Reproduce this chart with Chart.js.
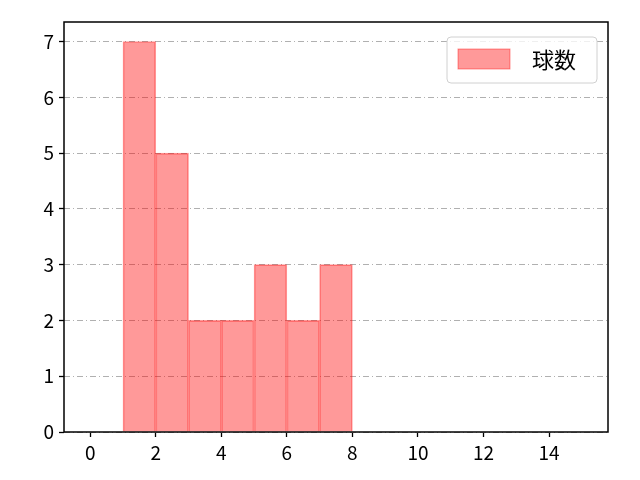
<!DOCTYPE html>
<html>
<head>
<meta charset="utf-8">
<script src="https://cdn.jsdelivr.net/npm/chart.js@4"></script>
<style>
  html, body { margin: 0; padding: 0; background: #fff; }
  #wrap { width: 640px; height: 480px; }
</style>
</head>
<body>
<div id="wrap"><canvas id="chart" width="640" height="480"></canvas></div>
<script>
// histogram bins (left edges) and counts
const binStarts = [1, 2, 3, 4, 5, 6, 7];
const counts = [7, 5, 2, 2, 3, 2, 3];
const xTicks = [0, 2, 4, 6, 8, 10, 12, 14];
const yTicks = [0, 1, 2, 3, 4, 5, 6, 7];
const seriesLabel = '球数';

const FONT = '"Noto Sans CJK JP", "Noto Sans", sans-serif';

// frame around the plot area
const framePlugin = {
    id: 'frame',
    afterDraw(chart) {
        const { ctx, chartArea: a } = chart;
        ctx.save();
        ctx.strokeStyle = '#000';
        ctx.lineWidth = 1.5;
        ctx.strokeRect(a.left, a.top, a.right - a.left, a.bottom - a.top);
        ctx.restore();
    }
};

const ctx = document.getElementById('chart').getContext('2d');
new Chart(ctx, {
    type: 'bar',
    data: {
        datasets: [{
            label: seriesLabel,
            data: binStarts.map((b, i) => ({ x: b + 0.5, y: counts[i] })),
            backgroundColor: 'rgba(255, 0, 0, 0.4)',
            borderColor: 'rgba(255, 0, 0, 0.4)',
            borderWidth: 1,
            barPercentage: 1,
            categoryPercentage: 1
        }]
    },
    options: {
        responsive: false,
        animation: false,
        layout: { padding: { top: 22, right: 32, left: 0, bottom: 0 } },
        plugins: {
            legend: { display: false },
            tooltip: { enabled: false }
        },
        scales: {
            x: {
                type: 'linear',
                offset: false,
                min: -0.8,
                max: 15.8,
                afterBuildTicks: s => { s.ticks = xTicks.map(v => ({ value: v })); },
                afterFit: s => { s.height = 48; },
                grid: { offset: false, drawOnChartArea: false, tickLength: 5, tickColor: '#000', tickWidth: 1.3 },
                border: { display: false },
                ticks: { color: '#000', font: { family: FONT, size: 19 }, padding: 4, maxRotation: 0 }
            },
            y: {
                min: 0,
                max: 7.35,
                afterBuildTicks: s => { s.ticks = yTicks.map(v => ({ value: v })); },
                afterFit: s => { s.width = 64; },
                grid: {
                    color: '#b0b0b0', lineWidth: 1, tickLength: 5, tickColor: '#000', tickWidth: 1.3,
                    tickBorderDash: []
                },
                border: { display: false, dash: [6, 3, 1, 3] },
                ticks: { color: '#000', font: { family: FONT, size: 19 }, padding: 5 }
            }
        }
    },
    plugins: [framePlugin, {
        // legend box in the upper right
        id: 'legendBox',
        afterDraw(chart) {
            const { ctx, chartArea: a } = chart;
            const ds = chart.data.datasets[0];
            const x = a.right - 161, y = a.top + 15, w = 150, h = 46;
            ctx.save();
            ctx.fillStyle = 'rgba(255,255,255,0.8)';
            ctx.strokeStyle = '#d0d0d0';
            ctx.lineWidth = 1;
            ctx.beginPath();
            ctx.roundRect(x, y, w, h, 4);
            ctx.fill();
            ctx.stroke();
            ctx.fillStyle = ds.backgroundColor;
            ctx.strokeStyle = ds.borderColor;
            ctx.fillRect(x + 11, y + 12, 52, 20);
            ctx.strokeRect(x + 11, y + 12, 52, 20);
            ctx.fillStyle = '#000';
            ctx.font = '22px ' + FONT;
            ctx.textBaseline = 'middle';
            ctx.fillText(ds.label, x + 85, y + 23);
            ctx.restore();
        }
    }]
});
</script>
</body>
</html>
